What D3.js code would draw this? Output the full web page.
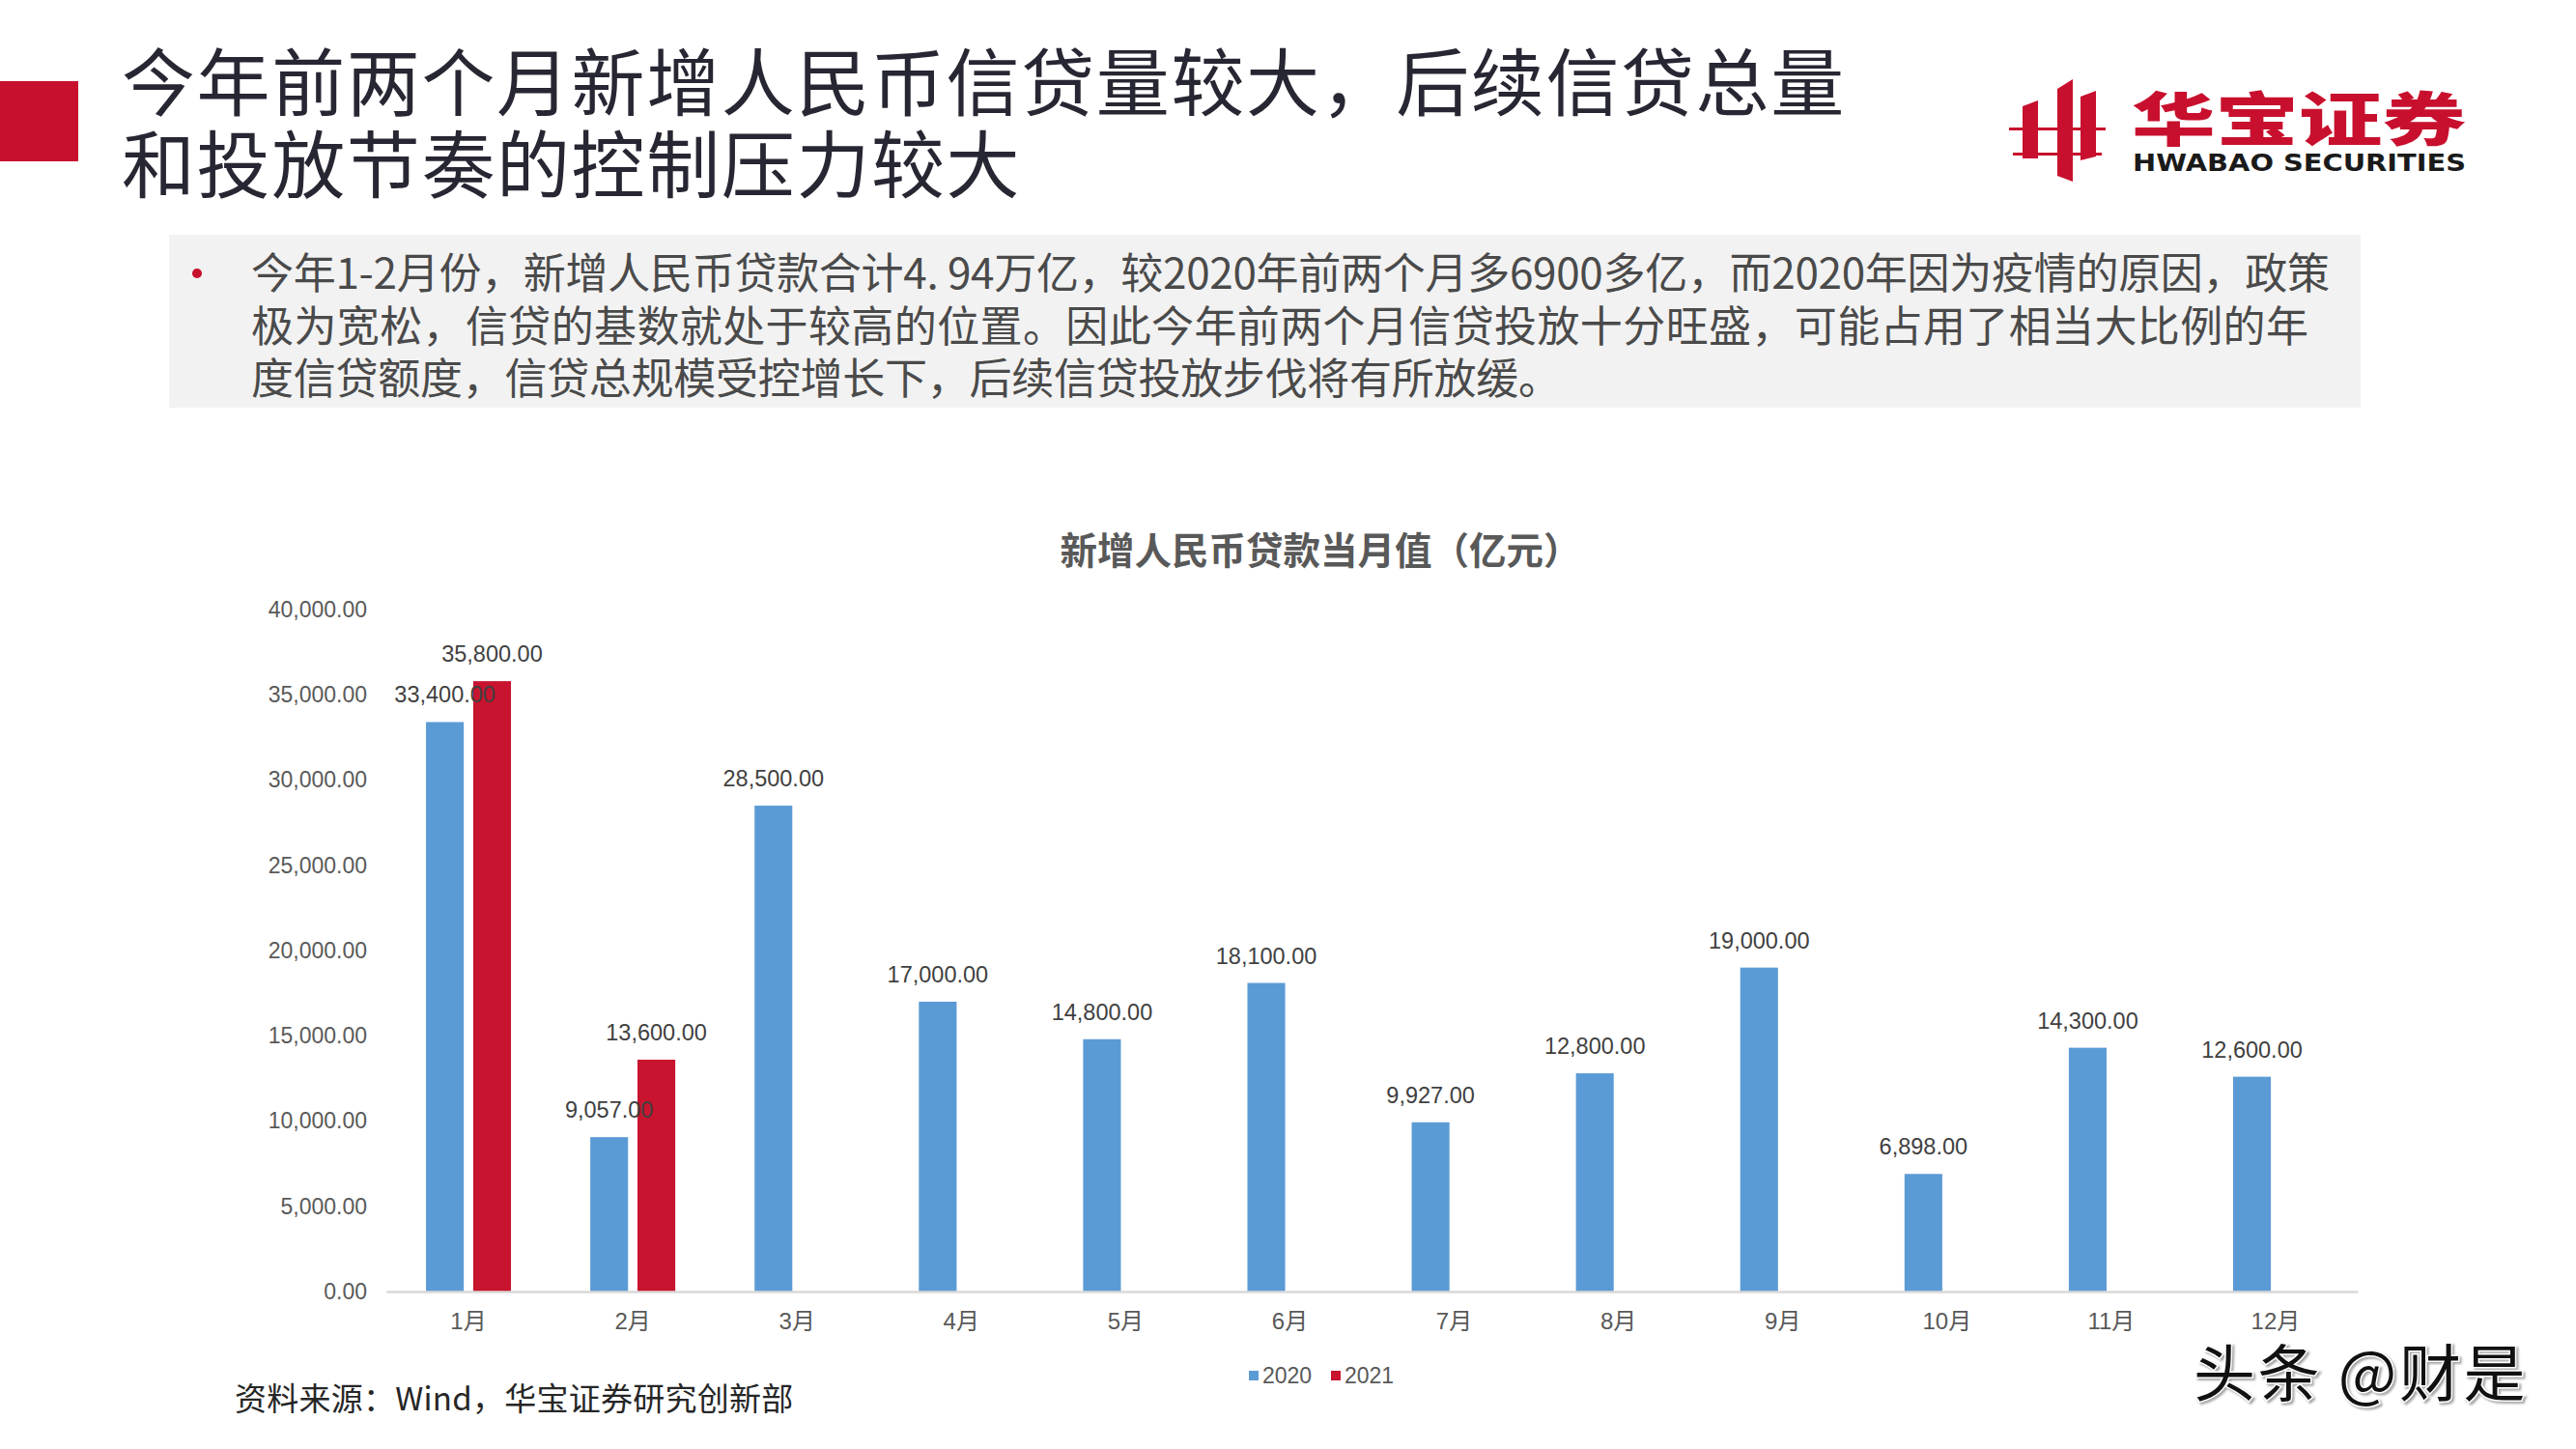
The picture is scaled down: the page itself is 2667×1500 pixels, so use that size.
<!DOCTYPE html>
<html>
<head>
<meta charset="utf-8">
<script src="https://cdn.jsdelivr.net/npm/d3@7"></script>
<style>
    body { margin: 0; background: #fff; }
    svg { display: block; }
    .cjk { font-family: "Noto Sans CJK SC", "Noto Sans", sans-serif; }
</style>
</head>
<body>
<div id="chart"></div>
<script>

var months = ["1月", "2月", "3月", "4月", "5月", "6月", "7月", "8月", "9月", "10月", "11月", "12月"];
var series = ["2020", "2021"];
var values2020 = [33400, 9057, 28500, 17000, 14800, 18100, 9927, 12800, 19000, 6898, 14300, 12600];
var values2021 = [35800, 13600, null, null, null, null, null, null, null, null, null, null];
var yTicks = [0, 5000, 10000, 15000, 20000, 25000, 30000, 35000, 40000];
var colors = {"2020": "#5b9bd5", "2021": "#c8142e"};

var pageTitle = ["今年前两个月新增人民币信贷量较大，后续信贷总量", "和投放节奏的控制压力较大"];
var bodyText = [
    "今年1-2月份，新增人民币贷款合计4. 94万亿，较2020年前两个月多6900多亿，而2020年因为疫情的原因，政策",
    "极为宽松，信贷的基数就处于较高的位置。因此今年前两个月信贷投放十分旺盛，可能占用了相当大比例的年",
    "度信贷额度，信贷总规模受控增长下，后续信贷投放步伐将有所放缓。"
];
var chartTitle = "新增人民币贷款当月值（亿元）";
var sourceText = "资料来源：Wind，华宝证券研究创新部";

var W = 2667, H = 1500;

var svg = d3.select("#chart").append("svg")
    .attr("width", W)
    .attr("height", H);

// header block + title
svg.append("rect")
    .attr("x", 0).attr("y", 84)
    .attr("width", 81).attr("height", 83)
    .attr("fill", "#c8102e");

svg.selectAll(".page-title")
    .data(pageTitle)
    .enter()
    .append("text")
    .attr("class", "page-title cjk")
    .attr("x", 126)
    .attr("y", function(d, i) { return 114 + i * 85; })
    .attr("font-size", 76)
    .attr("letter-spacing", 1.6)
    .attr("fill", "#272733")
    .text(function(d) { return d; });

// logo
var logo = svg.append("g").attr("transform", "translate(2080,82)");
logo.append("path")
    .attr("d", "M14,28 L30,22 L30,82 L14,82 Z")
    .attr("fill", "#c8102e");
logo.append("path")
    .attr("d", "M50,10 L66,0 L66,106 L50,100 Z")
    .attr("fill", "#c8102e");
logo.append("path")
    .attr("d", "M74,18 L90,12 L90,80 L74,84 Z")
    .attr("fill", "#c8102e");
logo.append("rect").attr("x", 0).attr("y", 50).attr("width", 100).attr("height", 3).attr("fill", "#c8102e");
logo.append("rect").attr("x", 4).attr("y", 76).attr("width", 92).attr("height", 3).attr("fill", "#c8102e");

svg.append("text")
    .attr("class", "cjk")
    .attr("x", 2207).attr("y", 146)
    .attr("font-size", 60)
    .attr("font-weight", 900)
    .attr("textLength", 346)
    .attr("lengthAdjust", "spacingAndGlyphs")
    .attr("fill", "#c8102e")
    .text("华宝证券");

svg.append("text")
    .attr("x", 2208).attr("y", 177)
    .attr("font-family", "\"DejaVu Sans\", sans-serif")
    .attr("font-size", 24)
    .attr("font-weight", 700)
    .attr("textLength", 345)
    .attr("lengthAdjust", "spacingAndGlyphs")
    .attr("fill", "#1a1a1a")
    .text("HWABAO SECURITIES");

// grey text box
svg.append("rect")
    .attr("x", 175).attr("y", 243)
    .attr("width", 2269).attr("height", 179)
    .attr("fill", "#f2f2f2");

svg.append("circle")
    .attr("cx", 204).attr("cy", 283)
    .attr("r", 5)
    .attr("fill", "#c8102e");

var lineWidths = [2152, 2130, 1356];
svg.selectAll(".body-line")
    .data(bodyText)
    .enter()
    .append("text")
    .attr("class", "body-line cjk")
    .attr("x", 260)
    .attr("y", function(d, i) { return 299 + i * 54.5; })
    .attr("font-size", 44)
    .attr("textLength", function(d, i) { return lineWidths[i]; })
    .attr("lengthAdjust", "spacing")
    .attr("fill", "#4a4a4a")
    .text(function(d) { return d; });

// chart
var x0 = d3.scaleBand().domain(months).range([400, 2441]);
var x1 = d3.scaleBand().domain(series).range([0, x0.bandwidth()])
    .paddingInner(0.2).paddingOuter(0.84);
var y = d3.scaleLinear().domain([0, 40000]).range([1337, 631]);

var fmt = d3.format(",.2f");

svg.append("text")
    .attr("class", "cjk")
    .attr("x", 1367).attr("y", 584)
    .attr("text-anchor", "middle")
    .attr("font-size", 38.5)
    .attr("font-weight", 700)
    .attr("fill", "#595959")
    .text(chartTitle);

// y axis labels, no line
var yAxis = svg.append("g")
    .attr("class", "y-axis")
    .attr("transform", "translate(383,0)")
    .call(d3.axisLeft(y).tickValues(yTicks).tickFormat(fmt).tickSize(0));
yAxis.select(".domain").remove();
yAxis.selectAll("text")
    .attr("font-size", 23)
    .attr("font-family", "\"Liberation Sans\", Arial, sans-serif")
    .attr("fill", "#595959");

var rows = months.map(function(m, i) {
    return {month: m, values: [
        {key: "2020", value: values2020[i]},
        {key: "2021", value: values2021[i]}
    ]};
});

var groups = svg.selectAll(".group")
    .data(rows)
    .enter()
    .append("g")
    .attr("class", "group")
    .attr("transform", function(d) { return "translate(" + x0(d.month) + ",0)"; });

groups.selectAll("rect")
    .data(function(d) { return d.values.filter(function(v) { return v.value != null; }); })
    .enter()
    .append("rect")
    .attr("x", function(d) { return x1(d.key); })
    .attr("y", function(d) { return y(d.value); })
    .attr("width", x1.bandwidth())
    .attr("height", function(d) { return y(0) - y(d.value); })
    .attr("fill", function(d) { return colors[d.key]; });

groups.selectAll(".bar-label")
    .data(function(d) { return d.values.filter(function(v) { return v.value != null; }); })
    .enter()
    .append("text")
    .attr("class", "bar-label")
    .attr("x", function(d) { return x1(d.key) + x1.bandwidth() / 2; })
    .attr("y", function(d) { return y(d.value) - 20; })
    .attr("text-anchor", "middle")
    .attr("font-family", "\"Liberation Sans\", Arial, sans-serif")
    .attr("font-size", 23.5)
    .attr("fill", "#404040")
    .text(function(d) { return fmt(d.value); });

// x axis
var xAxis = svg.append("g")
    .attr("class", "x-axis")
    .attr("transform", "translate(0," + y(0) + ")")
    .call(d3.axisBottom(x0).tickSize(0).tickPadding(22));
xAxis.select(".domain")
    .attr("stroke", "#d9d9d9")
    .attr("stroke-width", 2.5);
xAxis.selectAll("text")
    .attr("font-size", 24)
    .attr("font-family", "\"Liberation Sans\", \"Noto Sans CJK SC\", sans-serif")
    .attr("fill", "#595959");

// legend
var legend = svg.selectAll(".legend")
    .data(series)
    .enter()
    .append("g")
    .attr("class", "legend")
    .attr("transform", function(d, i) { return "translate(" + (1293 + i * 85) + ",1419)"; });
legend.append("rect")
    .attr("width", 10).attr("height", 10)
    .attr("fill", function(d) { return colors[d]; });
legend.append("text")
    .attr("x", 14).attr("y", 13)
    .attr("font-family", "\"Liberation Sans\", Arial, sans-serif")
    .attr("font-size", 23)
    .attr("fill", "#595959")
    .text(function(d) { return d; });

// footer
svg.append("text")
    .attr("class", "cjk")
    .attr("x", 243).attr("y", 1460)
    .attr("font-size", 33)
    .attr("letter-spacing", 0.25)
    .attr("fill", "#262626")
    .text(sourceText);

svg.append("text")
    .attr("class", "cjk")
    .attr("x", 2271).attr("y", 1445)
    .attr("font-size", 64)
    .attr("letter-spacing", 2.5)
    .attr("fill", "#111")
    .attr("stroke", "#fff")
    .attr("stroke-width", 3)
    .attr("paint-order", "stroke")
    .style("filter", "drop-shadow(2px 2px 1px rgba(0,0,0,0.35))")
    .text("头条 @财是");

</script>
</body>
</html>
